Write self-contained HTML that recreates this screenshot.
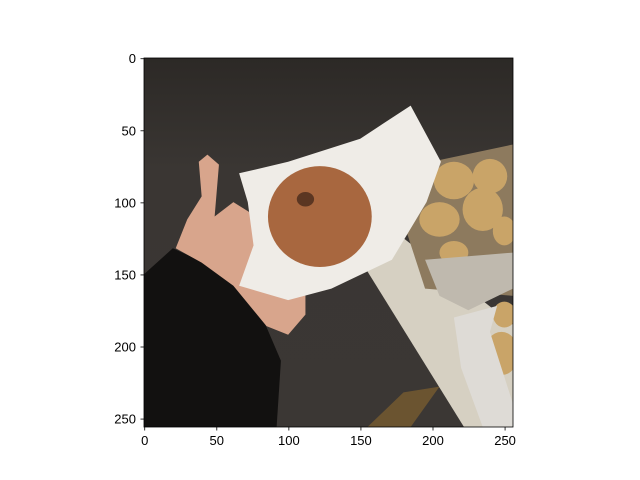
<!DOCTYPE html>
<html><head><meta charset="utf-8">
<style>
html,body{margin:0;padding:0;background:#fff;width:640px;height:480px;overflow:hidden}
svg{display:block;font-family:"Liberation Sans","DejaVu Sans",sans-serif}
</style></head>
<body>
<svg id="fig" width="640" height="480">
  <defs>
    <clipPath id="cp"><rect x="0" y="0" width="256" height="256"/></clipPath>
    <linearGradient id="bg" x1="0" y1="0" x2="0" y2="1">
      <stop offset="0" stop-color="#2c2926"/><stop offset="0.3" stop-color="#3a3633"/><stop offset="1" stop-color="#3b3734"/>
    </linearGradient>
  </defs>
  <g id="img" transform="translate(144,58) scale(1.4414)" clip-path="url(#cp)">
    <rect x="0" y="0" width="256" height="256" fill="url(#bg)"/>
    <polygon points="155,256 180,232 205,228 185,256" fill="#6b5430"/>
    <polygon points="150,140 180,125 256,185 256,256 222,256" fill="#d6d0c2"/>
    <polygon points="185,75 256,60 256,165 195,160 182,120" fill="#8d7a5e"/>
    <g fill="#c9a468">
      <ellipse cx="215" cy="85" rx="14" ry="13"/><ellipse cx="240" cy="82" rx="12" ry="12"/>
      <ellipse cx="235" cy="105" rx="14" ry="15"/><ellipse cx="205" cy="112" rx="14" ry="12"/>
      <ellipse cx="215" cy="135" rx="10" ry="8"/><ellipse cx="250" cy="120" rx="8" ry="10"/>
      <ellipse cx="248" cy="205" rx="12" ry="15"/><ellipse cx="250" cy="178" rx="8" ry="9"/>
    </g>
    <polygon points="195,140 256,135 256,160 225,175 205,165" fill="#bfb9ae"/>
    <polygon points="215,180 245,172 240,190 256,240 256,256 235,256 220,215" fill="#dedbd6"/>
    <polygon points="0,150 20,132 55,148 80,175 95,210 92,256 0,256" fill="#121110"/>
    <polygon points="22,132 30,112 40,96 38,72 44,67 52,74 49,110 62,100 78,110 98,132 112,160 112,178 100,192 85,186 62,158 40,142" fill="#d8a58c"/>
    <polygon points="66,80 100,72 150,56 185,33 206,72 196,100 172,140 130,160 100,168 66,158 76,130 72,100" fill="#efece7"/>
    <ellipse cx="122" cy="110" rx="36" ry="35" fill="#a8673f"/>
    <ellipse cx="112" cy="98" rx="6" ry="5" fill="#5b3622"/>
  </g>
  <rect x="144" y="58" width="369" height="369" fill="none" stroke="#000" stroke-width="0.8"/>
  <g id="xt"></g>
  <g id="yt"></g>
</svg>
<script>
const xTicks=[0,50,100,150,200,250];
const yTicks=[0,50,100,150,200,250];
const x0=144,y0=58,S=369/256;
function xs(v){return x0+(v+0.5)*S;}
function ys(v){return y0+(v+0.5)*S;}
const NS="http://www.w3.org/2000/svg";
const xg=document.getElementById('xt'),yg=document.getElementById('yt');
xTicks.forEach(t=>{
  const l=document.createElementNS(NS,'line');
  
  
  l.setAttribute('x1',xs(t));l.setAttribute('x2',xs(t));l.setAttribute('y1',427);l.setAttribute('y2',430.5);l.setAttribute('stroke','#000');l.setAttribute('stroke-width','0.8');
  xg.appendChild(l);
  const tx=document.createElementNS(NS,'text');
  
  
  tx.setAttribute('x',xs(t));tx.setAttribute('y',445);tx.setAttribute('text-anchor','middle');tx.setAttribute('font-size','13');
  tx.textContent=t;xg.appendChild(tx);
});
yTicks.forEach(t=>{
  const l=document.createElementNS(NS,'line');
  
  
  l.setAttribute('x1',140.5);l.setAttribute('x2',144);l.setAttribute('y1',ys(t));l.setAttribute('y2',ys(t));l.setAttribute('stroke','#000');l.setAttribute('stroke-width','0.8');
  yg.appendChild(l);
  const tx=document.createElementNS(NS,'text');
  
  
  tx.setAttribute('x',136);tx.setAttribute('y',ys(t)+4.5);tx.setAttribute('text-anchor','end');tx.setAttribute('font-size','13');
  tx.textContent=t;yg.appendChild(tx);
});
</script>
</body></html>
